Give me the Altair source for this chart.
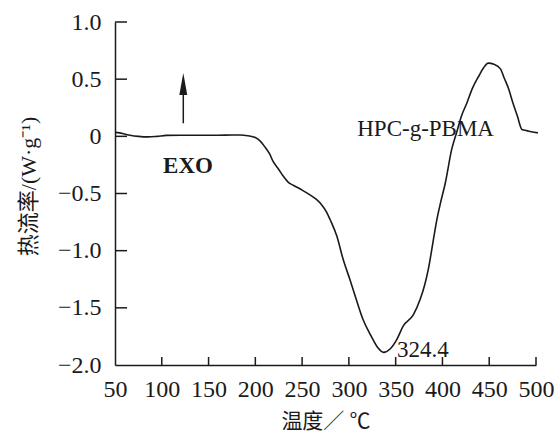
import altair as alt
import pandas as pd

# DSC heat-flow curve of HPC-g-PBMA
temperature = [50, 55, 60, 66, 75, 85, 95, 105, 120, 140, 160, 175, 184, 192, 200,
               205, 210, 215, 219, 225, 230, 235, 241, 250, 258, 265, 271, 276, 280,
               287, 294, 301, 308, 315, 324, 331, 337, 344, 351, 358, 369, 376, 381,
               385, 390, 394, 398, 403, 410, 415, 420, 426, 432, 439, 444, 449, 455,
               462, 466, 471, 475, 480, 485, 490, 495, 502]
heat_flow = [0.035, 0.03, 0.02, 0.01, 0.0, -0.005, 0.0, 0.008, 0.01, 0.01, 0.01, 0.012,
             0.012, 0.005, -0.01, -0.04, -0.09, -0.15, -0.22, -0.29, -0.35, -0.40, -0.43,
             -0.47, -0.51, -0.55, -0.60, -0.66, -0.73, -0.87, -1.08, -1.25, -1.43, -1.60,
             -1.75, -1.85, -1.89, -1.86, -1.78, -1.66, -1.56, -1.43, -1.30, -1.16, -0.92,
             -0.73, -0.58, -0.41, -0.11, 0.03, 0.17, 0.29, 0.42, 0.53, 0.60, 0.64, 0.63,
             0.59, 0.51, 0.41, 0.30, 0.18, 0.06, 0.05, 0.04, 0.03]

x_label_values = [50, 100, 150, 200, 250, 300, 350, 400, 450, 500]
x_tick_values = [100, 150, 200, 250, 300, 350, 400, 450, 500]
y_label_values = [-2.0, -1.5, -1.0, -0.5, 0.0, 0.5, 1.0]
y_tick_values = [-1.5, -1.0, -0.5, 0.0, 0.5, 1.0]

# text annotations (position in data units)
exo_label = ["EXO"]
exo_pos = [128, -0.321]
sample_label = ["HPC-g-PBMA"]
sample_pos = [382, 0.003]
peak_label = ["324.4"]
peak_pos = [351.5, -1.933]

# exotherm direction arrow
arrow_x = [123]
arrow_shaft_from = [0.114]
arrow_shaft_to = [0.42]
arrow_head_at = [0.458]

W, H = 421, 343
INK = "#1a1a1a"
SERIF = "Liberation Serif"
MIXED = "Liberation Serif, Noto Sans CJK SC"

xs = alt.Scale(domain=[50, 500], nice=False, zero=False)
ys = alt.Scale(domain=[-2, 1], nice=False, zero=False)

# one axis definition shared by every layer so they merge cleanly
x_axis = alt.Axis(
    values=x_label_values, title="温度／ ℃", ticks=False, grid=False,
    labelPadding=12, labelFlush=False, labelOverlap=False,
    titleFontSize=21, titleY=56, titleBaseline="middle")
y_axis = alt.Axis(
    values=y_label_values, title="热流率/(W·g⁻¹)", ticks=False, grid=False,
    labelPadding=14, labelOverlap=False, labelFlush=False,
    labelExpr="datum.value == 0 ? '0' : format(datum.value, '.1f')",
    titleFontSize=22, titleX=-87, titleY=164, titleAngle=-90,
    titleBaseline="middle", titleAlign="center")


def X(field="T"):
    return alt.X(f"{field}:Q", scale=xs, axis=x_axis)


def Y(field="HF"):
    return alt.Y(f"{field}:Q", scale=ys, axis=y_axis)


df = pd.DataFrame({"T": temperature, "HF": heat_flow})

curve = alt.Chart(df).mark_line(color=INK, strokeWidth=1.6, interpolate="monotone").encode(
    x=X(), y=Y(),
)

x_ticks = alt.Chart(pd.DataFrame({"T": x_tick_values})).mark_rule(color=INK, strokeWidth=1.5).encode(
    x=X(),
    y=alt.value(H),
    y2=alt.value(H - 8),
)

y_ticks = alt.Chart(pd.DataFrame({"HF": y_tick_values})).mark_rule(color=INK, strokeWidth=1.5).encode(
    y=Y(),
    x=alt.value(0),
    x2=alt.value(12),
)


def text_layer(label, pos, weight, align):
    d = pd.DataFrame({"T": [pos[0]], "HF": [pos[1]], "label": label})
    return alt.Chart(d).mark_text(
        font=SERIF, fontSize=23, color=INK, baseline="alphabetic",
        fontWeight=weight, align=align,
    ).encode(x=X(), y=Y(), text="label:N")


exo_text = text_layer(exo_label, exo_pos, "bold", "center")
sample_text = text_layer(sample_label, sample_pos, "normal", "center")
peak_text = text_layer(peak_label, peak_pos, "normal", "left")

arrow_df = pd.DataFrame({"T": arrow_x, "HF": arrow_shaft_from, "HF2": arrow_shaft_to, "head": arrow_head_at})

shaft = alt.Chart(arrow_df).mark_rule(color=INK, strokeWidth=1.5).encode(
    x=X(), y=Y(), y2="HF2:Q",
)

head = alt.Chart(arrow_df).mark_point(
    shape="M0,-1L0.36,1L-0.36,1Z", filled=True, size=484, color=INK, opacity=1, strokeWidth=0
).encode(x=X(), y=Y("head"))

chart = alt.layer(curve, x_ticks, y_ticks, shaft, head, exo_text, sample_text, peak_text).properties(
    width=W, height=H,
    padding={"left": 115, "top": 22, "right": 22, "bottom": 68},
    autosize=alt.AutoSizeParams(type="none"),
    background="white",
).configure_view(
    stroke=None
).configure_axis(
    domainColor=INK, domainWidth=1.5,
    labelFont=SERIF, labelFontSize=24, labelColor=INK,
    titleFont=MIXED, titleFontWeight="normal", titleColor=INK,
)

chart.save("out.html", embed_options={"renderer": "svg", "actions": False})
